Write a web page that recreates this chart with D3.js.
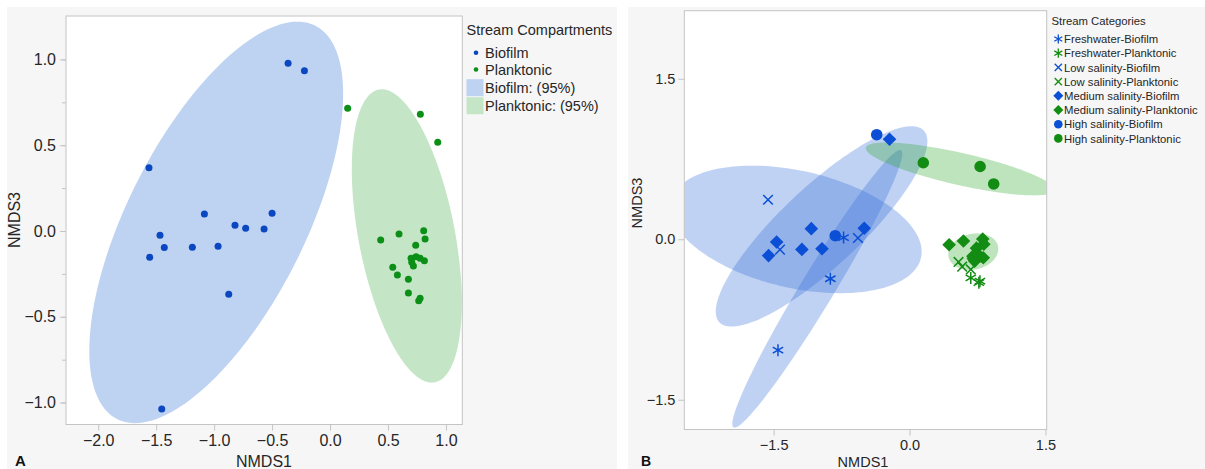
<!DOCTYPE html>
<html>
<head>
<meta charset="utf-8">
<script src="https://cdn.jsdelivr.net/npm/d3@7"></script>
<style>
  body { margin: 0; background: #ffffff; }
  svg { display: block; }
  text { font-family: "Liberation Sans", Arial, sans-serif; }
</style>
</head>
<body>
<svg id="fig" width="1205" height="469"></svg>
<script>
// ---- NMDS scores (axis 1 and axis 3) per sample ----
const biofilmNMDS1 = [-0.362, -0.221, -1.562, -1.084, -0.500, -0.820, -0.728, -0.569, -1.467, -1.430, -1.188, -0.966, -1.556, -0.874, -1.452];
const biofilmNMDS3 = [0.977, 0.934, 0.369, 0.099, 0.103, 0.033, 0.016, 0.012, -0.025, -0.097, -0.095, -0.089, -0.153, -0.369, -1.037];
const biofilmSalinity = ["High salinity", "Medium salinity", "Low salinity", "Medium salinity", "Medium salinity", "High salinity", "Freshwater", "Low salinity", "Medium salinity", "Low salinity", "Medium salinity", "Medium salinity", "Medium salinity", "Freshwater", "Freshwater"];

const planktonicNMDS1 = [0.152, 0.779, 0.929, 0.437, 0.595, 0.808, 0.820, 0.739, 0.699, 0.742, 0.777, 0.814, 0.719, 0.705, 0.541, 0.581, 0.676, 0.676, 0.777, 0.765];
const planktonicNMDS3 = [0.715, 0.680, 0.517, -0.052, -0.017, 0.002, -0.047, -0.083, -0.159, -0.150, -0.159, -0.173, -0.204, -0.182, -0.212, -0.256, -0.282, -0.361, -0.392, -0.406];
const planktonicSalinity = ["High salinity", "High salinity", "High salinity", "Medium salinity", "Medium salinity", "Medium salinity", "Medium salinity", "Medium salinity", "Medium salinity", "Medium salinity", "Medium salinity", "Medium salinity", "Medium salinity", "Medium salinity", "Low salinity", "Low salinity", "Low salinity", "Freshwater", "Freshwater", "Freshwater"];

// ---- 95% density ellipses: centre, half-extent along each axis, correlation ----
const compartmentEllipseGroup = ["Biofilm", "Planktonic"];
const compartmentEllipseCx = [-0.982, 0.662];
const compartmentEllipseCy = [0.050, -0.029];
const compartmentEllipseSx = [1.095, 0.4745];
const compartmentEllipseSy = [1.170, 0.855];
const compartmentEllipseR  = [0.64, -0.455];

const categoryEllipseGroup = ["Low salinity-Biofilm", "Medium salinity-Biofilm", "Freshwater-Biofilm", "High salinity-Planktonic", "Medium salinity-Planktonic"];
const categoryEllipseCx = [-1.253, -0.971, -1.018, 0.557, 0.704];
const categoryEllipseCy = [0.092, 0.120, -0.463, 0.657, -0.116];
const categoryEllipseSx = [1.387, 1.168, 0.938, 1.04, 0.276];
const categoryEllipseSy = [0.596, 0.936, 1.297, 0.247, 0.171];
const categoryEllipseR  = [-0.35, 0.85, 0.973, -0.782, 0.15];

// ---- axes ----
const ticksA_x = [-2.0, -1.5, -1.0, -0.5, 0.0, 0.5, 1.0];
const ticksA_y = [-1.0, -0.5, 0.0, 0.5, 1.0];
const minorA_y = [-1.0, -0.75, -0.5, -0.25, 0.0, 0.25, 0.5, 0.75, 1.0];
const ticksB = [-1.5, 0.0, 1.5];

const compartments = ["Biofilm", "Planktonic"];
const salinityLevels = ["Freshwater", "Low salinity", "Medium salinity", "High salinity"];

// ---- styling ----
const blueA = "#0a47c0", greenA = "#0b8f16";
const blueB = "#0a4fd6", greenB = "#128c12";
const fillA = { Biofilm: "#bed2f2", Planktonic: "#c4e6c6" };
const frameColor = "#c4c4c4";
const textColor = "#262626";

// build records
const samples = [];
biofilmNMDS1.forEach((v, i) => samples.push({ x: v, y: biofilmNMDS3[i], comp: "Biofilm", sal: biofilmSalinity[i] }));
planktonicNMDS1.forEach((v, i) => samples.push({ x: v, y: planktonicNMDS3[i], comp: "Planktonic", sal: planktonicSalinity[i] }));

const ellipsesA = compartmentEllipseGroup.map((g, i) => ({ group: g, cx: compartmentEllipseCx[i], cy: compartmentEllipseCy[i], sx: compartmentEllipseSx[i], sy: compartmentEllipseSy[i], r: compartmentEllipseR[i] }));
const ellipsesB = categoryEllipseGroup.map((g, i) => ({ group: g, cx: categoryEllipseCx[i], cy: categoryEllipseCy[i], sx: categoryEllipseSx[i], sy: categoryEllipseSy[i], r: categoryEllipseR[i] }));

// marker shapes
const asteriskShape = { draw(ctx, size) {
  const r = Math.sqrt(size), t = r / 2, u = t * Math.sqrt(3);
  ctx.moveTo(0, -r); ctx.lineTo(0, r);
  ctx.moveTo(-u, -t); ctx.lineTo(u, t);
  ctx.moveTo(-u, t); ctx.lineTo(u, -t);
}};
const timesShape = { draw(ctx, size) {
  const r = Math.sqrt(size);
  ctx.moveTo(-r, -r); ctx.lineTo(r, r);
  ctx.moveTo(-r, r); ctx.lineTo(r, -r);
}};
const diamondShape = { draw(ctx, size) {
  const r = Math.sqrt(size);
  ctx.moveTo(0, -r); ctx.lineTo(r, 0); ctx.lineTo(0, r); ctx.lineTo(-r, 0); ctx.closePath();
}};
const circleShape = { draw(ctx, size) {
  const r = Math.sqrt(size);
  ctx.moveTo(r, 0); ctx.arc(0, 0, r, 0, 2 * Math.PI);
}};
const shapeBySalinity = {
  "Freshwater": { type: asteriskShape, r: 6, stroke: true },
  "Low salinity": { type: timesShape, r: 4.8, stroke: true },
  "Medium salinity": { type: diamondShape, r: 6.8, stroke: false },
  "High salinity": { type: circleShape, r: 5.8, stroke: false }
};

const svg = d3.select("#fig");

// panel backgrounds
svg.append("rect").attr("x", 7).attr("y", 7).attr("width", 610).attr("height", 462).attr("fill", "#f6f6f6");
svg.append("rect").attr("x", 628).attr("y", 7).attr("width", 577).attr("height", 462).attr("fill", "#f6f6f6");

function ellipsePath(e, x, y) {
  const k = Math.sqrt(1 - e.r * e.r);
  const pts = d3.range(0, 360, 2).map(deg => {
    const t = deg * Math.PI / 180;
    const dx = e.sx * Math.cos(t);
    const dy = e.sy * (e.r * Math.cos(t) + k * Math.sin(t));
    return [x(e.cx + dx), y(e.cy + dy)];
  });
  return d3.line().curve(d3.curveLinearClosed)(pts);
}

function drawFrame(g, x, y, id) {
  const [x0, x1] = x.range(), [y1, y0] = y.range();
  g.append("rect").attr("x", x0).attr("y", y0).attr("width", x1 - x0).attr("height", y1 - y0).attr("fill", "#ffffff");
  svg.append("clipPath").attr("id", id).append("rect")
    .attr("x", x0).attr("y", y0).attr("width", x1 - x0).attr("height", y1 - y0);
}

function styleAxis(sel, fontSize) {
  sel.select(".domain").remove();
  sel.selectAll(".tick line").attr("stroke", frameColor);
  sel.selectAll(".tick text").attr("fill", textColor).style("font-size", fontSize + "px");
}

// ================= Panel A =================
const xA = d3.scaleLinear().domain([-2.278, 1.141]).range([66, 462.3]);
const yA = d3.scaleLinear().domain([-1.128, 1.253]).range([424.5, 16]);
const gA = svg.append("g");
drawFrame(gA, xA, yA, "clipA");

const plotA = gA.append("g").attr("clip-path", "url(#clipA)");
plotA.selectAll("path.ell").data(ellipsesA).join("path")
  .attr("class", "ell").attr("d", d => ellipsePath(d, xA, yA))
  .attr("fill", d => fillA[d.group]);
plotA.selectAll("circle.pt").data(samples).join("circle")
  .attr("class", "pt").attr("cx", d => xA(d.x)).attr("cy", d => yA(d.y)).attr("r", 3.5)
  .attr("fill", d => d.comp === "Biofilm" ? blueA : greenA);

gA.append("rect").attr("x", 66).attr("y", 16).attr("width", 462.3 - 66).attr("height", 424.5 - 16)
  .attr("fill", "none").attr("stroke", frameColor);

gA.append("g").attr("transform", "translate(0,424.5)")
  .call(d3.axisBottom(xA).tickValues(ticksA_x).tickFormat(d3.format(".1f")).tickSize(6).tickPadding(4))
  .call(s => styleAxis(s, 16));
gA.append("g").attr("transform", "translate(66,0)")
  .call(d3.axisLeft(yA).tickValues(minorA_y).tickFormat("").tickSize(4))
  .call(s => styleAxis(s, 16));
gA.append("g").attr("transform", "translate(66,0)")
  .call(d3.axisLeft(yA).tickValues(ticksA_y).tickFormat(d3.format(".1f")).tickSize(6).tickPadding(4))
  .call(s => styleAxis(s, 16));

gA.append("text").attr("x", 264).attr("y", 466.5).attr("text-anchor", "middle")
  .attr("fill", textColor).style("font-size", "16px").text("NMDS1");
gA.append("text").attr("transform", "translate(20,220) rotate(-90)").attr("text-anchor", "middle")
  .attr("fill", textColor).style("font-size", "16px").text("NMDS3");
gA.append("text").attr("x", 15).attr("y", 466).attr("fill", "#111")
  .style("font-size", "15px").style("font-weight", "bold").text("A");

// legend A
const legA = svg.append("g");
legA.append("text").attr("x", 466.5).attr("y", 35).attr("fill", textColor).style("font-size", "14.5px").text("Stream Compartments");
compartments.forEach((c, i) => {
  const yy = 52.7 + i * 16.8;
  legA.append("circle").attr("cx", 476).attr("cy", yy).attr("r", 2.3).attr("fill", c === "Biofilm" ? blueA : greenA);
  legA.append("text").attr("x", 485).attr("y", yy + 5).attr("fill", textColor).style("font-size", "14.5px").text(c);
});
compartments.forEach((c, i) => {
  const yy = 87.7 + i * 18;
  legA.append("rect").attr("x", 466.5).attr("y", yy - 8.5).attr("width", 17).attr("height", 17).attr("fill", fillA[c]);
  legA.append("text").attr("x", 485).attr("y", yy + 5).attr("fill", textColor).style("font-size", "14.5px").text(c + ": (95%)");
});

// ================= Panel B =================
const xB = d3.scaleLinear().domain([-2.486, 1.514]).range([684.3, 1046.7]);
const yB = d3.scaleLinear().domain([-1.778, 2.136]).range([429.5, 10.7]);
const gB = svg.append("g");
drawFrame(gB, xB, yB, "clipB");

const plotB = gB.append("g").attr("clip-path", "url(#clipB)");
plotB.selectAll("path.ell").data(ellipsesB).join("path")
  .attr("class", "ell").attr("d", d => ellipsePath(d, xB, yB))
  .attr("fill", d => d.group.endsWith("Biofilm") ? "#2d69d7" : "#26a526")
  .attr("fill-opacity", 0.3);

const symbolGen = d3.symbol();
plotB.selectAll("path.pt").data(samples).join("path")
  .attr("class", "pt")
  .attr("transform", d => `translate(${xB(d.x)},${yB(d.y)})`)
  .attr("d", d => { const s = shapeBySalinity[d.sal]; return symbolGen.type(s.type).size(s.r * s.r)(); })
  .attr("fill", d => shapeBySalinity[d.sal].stroke ? "none" : (d.comp === "Biofilm" ? blueB : greenB))
  .attr("stroke", d => shapeBySalinity[d.sal].stroke ? (d.comp === "Biofilm" ? blueB : greenB) : "none")
  .attr("stroke-width", 1.5);

gB.append("rect").attr("x", 684.3).attr("y", 10.7).attr("width", 1046.7 - 684.3).attr("height", 429.5 - 10.7)
  .attr("fill", "none").attr("stroke", frameColor);

gB.append("g").attr("transform", "translate(0,429.5)")
  .call(d3.axisBottom(xB).tickValues(ticksB).tickFormat(d3.format(".1f")).tickSize(6).tickPadding(4))
  .call(s => styleAxis(s, 14.5));
gB.append("g").attr("transform", "translate(684.3,0)")
  .call(d3.axisLeft(yB).tickValues(ticksB).tickFormat(d3.format(".1f")).tickSize(6).tickPadding(3))
  .call(s => styleAxis(s, 14.5));

gB.append("text").attr("x", 863).attr("y", 467).attr("text-anchor", "middle")
  .attr("fill", textColor).style("font-size", "14.5px").text("NMDS1");
gB.append("text").attr("transform", "translate(642,203) rotate(-90)").attr("text-anchor", "middle")
  .attr("fill", textColor).style("font-size", "14.5px").text("NMDS3");
gB.append("text").attr("x", 641).attr("y", 465.5).attr("fill", "#111")
  .style("font-size", "14px").style("font-weight", "bold").text("B");

// legend B
const legB = svg.append("g");
legB.append("text").attr("x", 1051.5).attr("y", 25).attr("fill", textColor).style("font-size", "11.3px").text("Stream Categories");
const legendShapeR = { "Freshwater": 4.6, "Low salinity": 3.6, "Medium salinity": 5, "High salinity": 4.3 };
let li = 0;
salinityLevels.forEach(sal => {
  compartments.forEach(comp => {
    const yy = 39 + li * 14.2;
    const s = shapeBySalinity[sal];
    const col = comp === "Biofilm" ? blueB : greenB;
    legB.append("path").attr("transform", `translate(1058.3,${yy})`)
      .attr("d", symbolGen.type(s.type).size(legendShapeR[sal] * legendShapeR[sal])())
      .attr("fill", s.stroke ? "none" : col)
      .attr("stroke", s.stroke ? col : "none").attr("stroke-width", 1.3);
    legB.append("text").attr("x", 1064).attr("y", yy + 4.2).attr("fill", textColor)
      .style("font-size", "11.3px").text(`${sal}-${comp}`);
    li++;
  });
});
</script>
</body>
</html>
